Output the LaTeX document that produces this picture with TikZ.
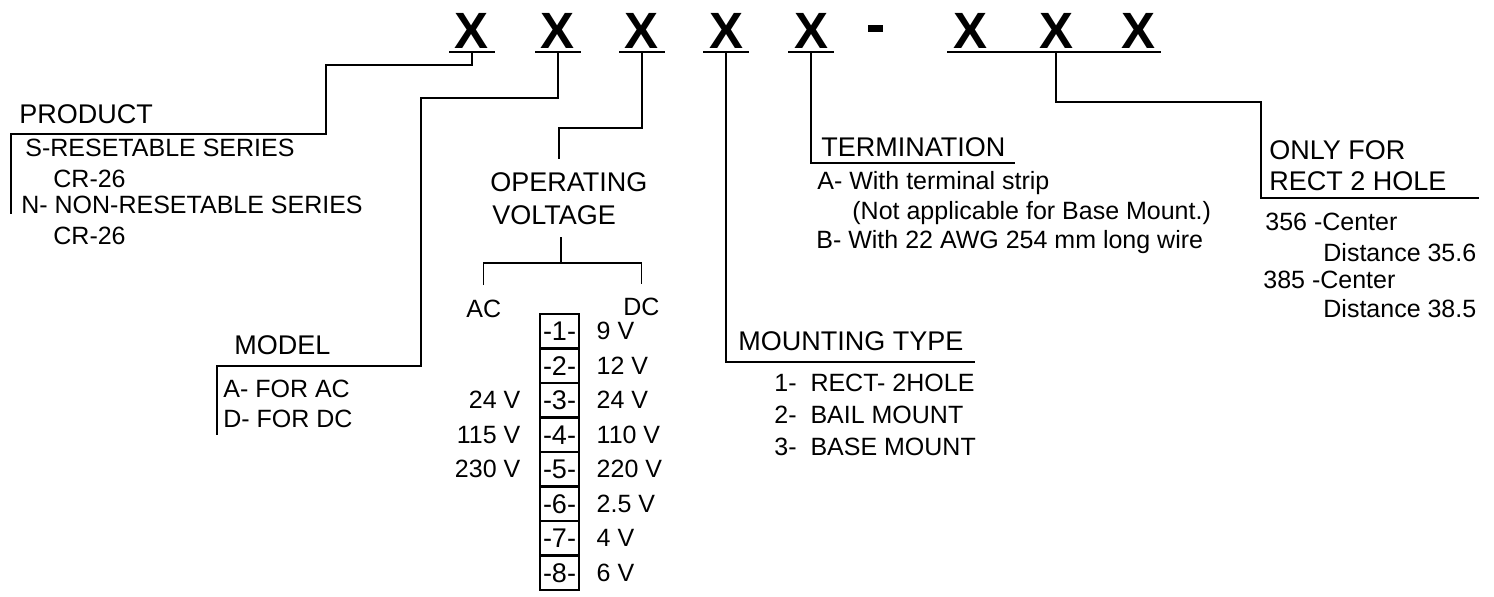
\documentclass[tikz,border=0pt]{standalone}
\usepackage{fontspec}
\setmainfont{Liberation Sans}
\usetikzlibrary{calc}
\tikzset{
  head/.style={anchor=base west,inner sep=0pt,font=\fontsize{13.5}{16}\selectfont},
  item/.style={anchor=base west,inner sep=0pt,font=\fontsize{12.5}{15}\selectfont},
  xmark/.style={anchor=south,inner xsep=0pt,inner ysep=1.5pt,minimum width=22.5pt,font=\fontsize{25.5}{26}\selectfont\bfseries},
  wire/.style={line width=0.6pt},
  uline/.style={line width=1.1pt},
  cell/.style={draw,line width=1.3pt,minimum width=19.5pt,minimum height=17.25pt,inner sep=0pt,font=\fontsize{13.5}{16}\selectfont},
}

\begin{document}
\begin{tikzpicture}[x=0.5pt,y=-0.5pt]
\useasboundingbox (0,0) rectangle (1494,597);
% code letters
\foreach \n/\xc in {1/472,2/558,3/642,4/726,5/811,6/970,7/1056,8/1138}
  \node[xmark] (x\n) at (\xc,52) {X};
\foreach \n in {1,...,5}
  \draw[uline] (x\n.south west) -- (x\n.south east);
\draw[uline] (x6.south west) -- (x8.south east);
\node[fill,inner sep=0pt,minimum width=7.5pt,minimum height=3.5pt] (dash) at (875,28.5) {};

% product
\node[head] (prod) at (19,124) {PRODUCT};
\node[item] (prodS) at (25,157) {S-RESETABLE SERIES};
\node[item] (prodS2) at (53,188) {CR-26};
\node[item] (prodN) at (21,214) {N- NON-RESETABLE SERIES};
\node[item] (prodN2) at (53,245) {CR-26};
\coordinate (prodE) at (11,214);
\draw[wire] (x1.south) |- (326,65) |- (11,134) -- (prodE);

% model
\node[head] (model) at (234,355) {MODEL};
\node[item] (modA) at (223,398) {A- FOR AC};
\node[item] (modD) at (223,428) {D- FOR DC};
\coordinate (modE) at (217,435);
\draw[wire] (x2.south) |- (421,98) |- (217,366) -- (modE);

% operating voltage
\node[head] (volt1) at (490,192) {OPERATING};
\node[head] (volt2) at (492,225) {VOLTAGE};
\coordinate (voltE) at (559,159);
\draw[wire] (x3.south) |- (559,128) -- (voltE);
\node[item] (ac) at (466,318) {AC};
\node[item] (dc) at (623,316) {DC};
\coordinate (vsplit) at (561,263);
\draw[wire] ([yshift=7.5pt]ac.north) |- (vsplit) -| ([yshift=7pt]dc.north);
\draw[wire] (vsplit) -- ++(0,-26);
\foreach \i/\dc/\ac in {1/9 V/,2/12 V/,3/24 V/24 V,4/110 V/115 V,5/220 V/230 V,6/2.5 V/,7/4 V/,8/6 V/} {
  \node[cell] (c\i) at (559.5,{314+34.5*(\i-0.5)}) {-\i-};
  \node[item,anchor=west] at ([xshift=8pt]c\i.east) {\dc};
  \node[item,anchor=east] at ([xshift=-9pt]c\i.west) {\ac};
}

% mounting type
\node[head] (mount) at (738,351) {MOUNTING TYPE};
\node[item] (mnt1) at (774,392) {1-\ \ RECT- 2HOLE};
\node[item] (mnt2) at (774,424) {2-\ \ BAIL MOUNT};
\node[item] (mnt3) at (774,456) {3-\ \ BASE MOUNT};
\coordinate (mntE) at (975,362);
\draw[wire] (x4.south) |- (mntE);

% termination
\node[head] (term) at (821,157) {TERMINATION};
\node[item] (termA) at (817,190) {A- With terminal strip};
\node[item] (termA2) at (852,220) {(Not applicable for Base Mount.)};
\node[item] (termB) at (816,249) {B- With 22 AWG 254 mm long wire};
\coordinate (termE) at (1015,163);
\draw[wire] (x5.south) |- (termE);

% only for rect 2 hole
\node[head] (only1) at (1269,160) {ONLY FOR};
\node[head] (only2) at (1269,191) {RECT 2 HOLE};
\node[item] (dist1) at (1265,231) {356 -Center};
\node[item] (dist1b) at (1323,262) {Distance 35.6};
\node[item] (dist2) at (1263,289) {385 -Center};
\node[item] (dist2b) at (1323,318) {Distance 38.5};
\coordinate (onlyE) at (1479,198);
\draw[wire] (x7.south) |- (1261,102) |- (onlyE);
\end{tikzpicture}
\end{document}
